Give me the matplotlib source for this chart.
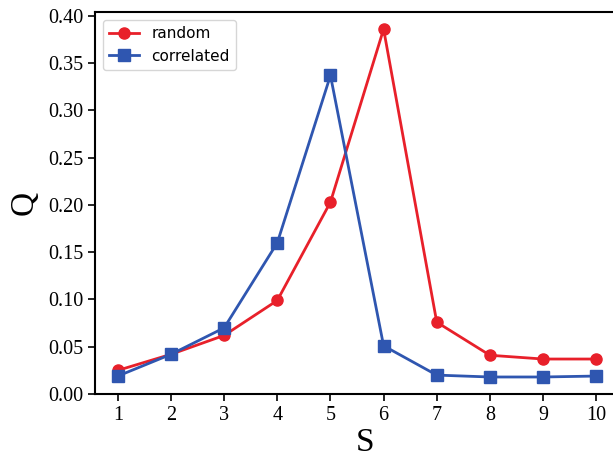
import matplotlib
matplotlib.use("Agg")
import matplotlib.pyplot as plt

s_values = [1, 2, 3, 4, 5, 6, 7, 8, 9, 10]
q_random = [0.025, 0.042, 0.062, 0.099, 0.203, 0.386, 0.076, 0.041, 0.037, 0.037]
q_correlated = [0.019, 0.042, 0.070, 0.160, 0.337, 0.051, 0.020, 0.018, 0.018, 0.019]
y_ticks = [0.00, 0.05, 0.10, 0.15, 0.20, 0.25, 0.30, 0.35, 0.40]

fig = plt.figure(figsize=(6.13, 4.59), dpi=100)
# axes run slightly past the right edge of the canvas
ax = fig.add_axes([0.155, 0.1416, 0.88, 0.832])

ax.plot(s_values, q_random, color="#e8202a", marker="o", markersize=8,
        linewidth=2, label="random")
ax.plot(s_values, q_correlated, color="#2f56b0", marker="s", markersize=8,
        linewidth=2, label="correlated")

ax.set_xlim(0.57, 10.72)
ax.set_ylim(0, 0.404)
ax.set_xticks(s_values)
ax.set_yticks(y_ticks)
ax.set_yticklabels([f"{v:.2f}" for v in y_ticks])

serif = "Liberation Serif"
for lab in ax.get_xticklabels() + ax.get_yticklabels():
    lab.set_fontfamily(serif)
    lab.set_fontsize(14.5)
ax.tick_params(direction="out", length=5, width=1.2)
for sp in ax.spines.values():
    sp.set_linewidth(1.5)

ax.set_xlabel("S", fontfamily=serif, fontsize=24, labelpad=2)
ax.set_ylabel("Q", fontfamily=serif, fontsize=24, labelpad=6)

ax.legend(loc="upper left", fontsize=11, handlelength=2.0, borderaxespad=0.5)

fig.savefig("out.png", dpi=100)
